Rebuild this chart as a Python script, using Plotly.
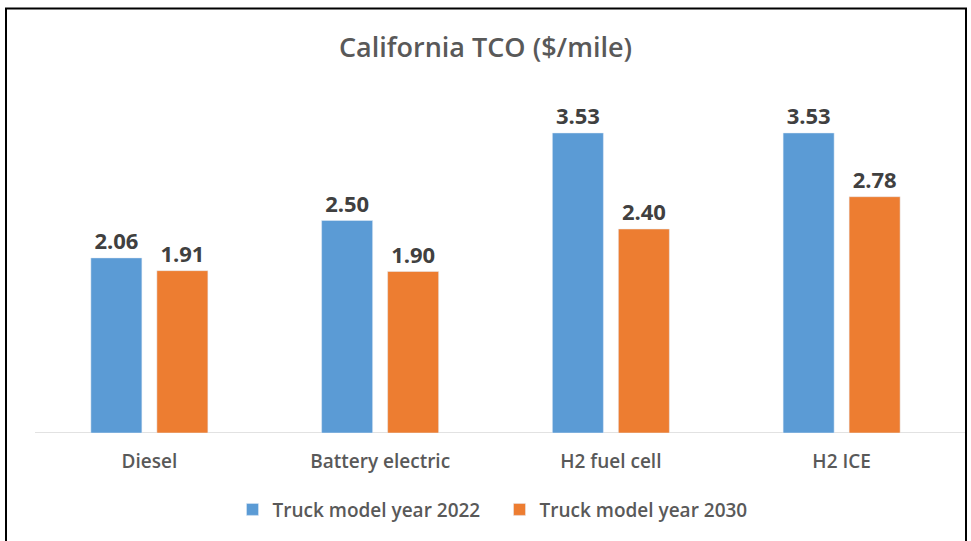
import plotly.graph_objects as go

categories = ["Diesel", "Battery electric", "H2 fuel cell", "H2 ICE"]
series_names = ["Truck model year 2022", "Truck model year 2030"]
values_2022 = [2.06, 2.50, 3.53, 3.53]
values_2030 = [1.91, 1.90, 2.40, 2.78]
colors = ["#5B9BD5", "#ED7D31"]

FONT = "'Open Sans', sans-serif"

fig = go.Figure()
for name, vals, col in zip(series_names, [values_2022, values_2030], colors):
    fig.add_trace(go.Bar(
        x=categories, y=vals, name=name, marker_color=col,
        text=[f"{v:.2f}" for v in vals], textposition="outside",
        textfont=dict(family=FONT, size=22, color="#404040", weight="bold"),
        cliponaxis=False,
    ))

W, H = 971, 541
L, T = 34, 93
R = W - 957
B = H - 435
pw, ph = W - L - R, H - T - B

def px_x(p):
    return (p - L) / pw

def px_y(p):
    return 1 - (p - T) / ph

fig.update_layout(
    width=W, height=H,
    margin=dict(l=L, r=R, t=T, b=B),
    paper_bgcolor="white", plot_bgcolor="white",
    barmode="group", bargap=0.428, bargroupgap=0.227,
    title=dict(text="California TCO ($/mile)", x=0.5, xanchor="center",
               y=1 - 48 / H, yanchor="middle",
               font=dict(family=FONT, size=27, color="#595959", weight=600)),
    xaxis=dict(showline=False, showgrid=False, ticks="", ticklabelstandoff=15,
               tickfont=dict(family=FONT, size=19, color="#595959", weight=600)),
    yaxis=dict(range=[0, 4], visible=False),
    legend=dict(orientation="h", x=0.5 + 4 / pw, xanchor="center", y=px_y(512), yanchor="middle",
                font=dict(family=FONT, size=19, color="#595959", weight=600),
                itemwidth=30, tracegroupgap=0, entrywidth=222, entrywidthmode="pixels"),
    showlegend=True,
)

fig.add_shape(type="line", xref="paper", yref="y", x0=px_x(35), x1=px_x(965), y0=0, y1=0,
              line=dict(color="#D9D9D9", width=1.5), layer="below")
fig.add_shape(type="rect", xref="paper", yref="paper",
              x0=px_x(6), x1=px_x(966), y0=px_y(8), y1=px_y(560),
              line=dict(color="black", width=2))

fig.write_html("out.html", config={"displayModeBar": False},
               post_script="document.body.style.margin='0';")
